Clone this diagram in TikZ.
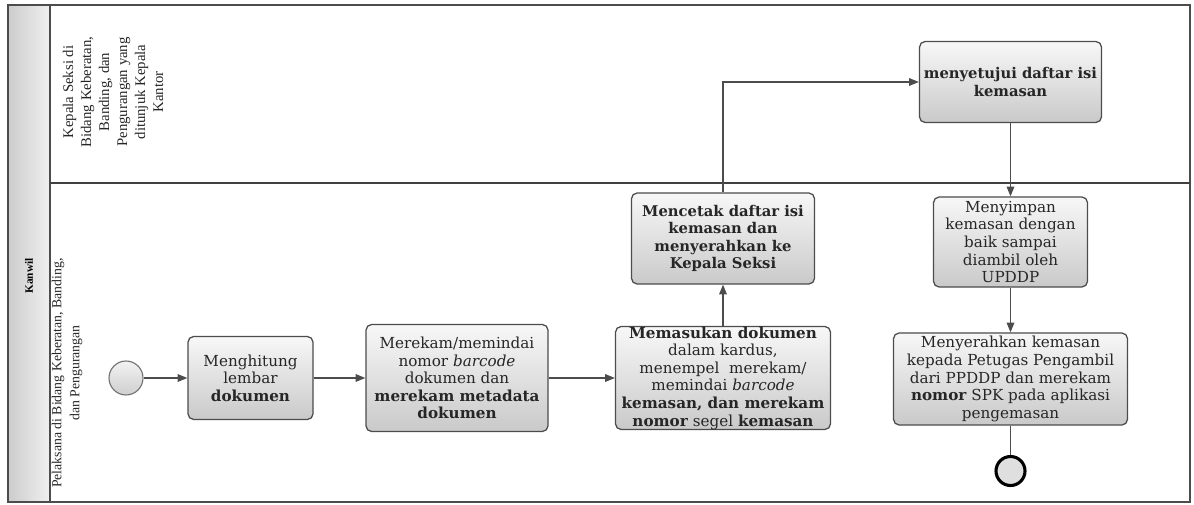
\documentclass[tikz,border=0pt]{standalone}
\usepackage{fontspec}
\setmainfont{DejaVu Serif}
\newfontfamily\lanefont{Liberation Serif}
\usetikzlibrary{arrows.meta,positioning}

\tikzset{
  task/.style={draw=black!70, line width=0.9pt, rounded corners=4pt,
    top color=gray!6, bottom color=gray!42, align=center, inner sep=2pt,
    text=black!85, font=\fontsize{10.8}{12.5}\selectfont},
  boldtask/.style={task, font=\bfseries\fontsize{10.5}{12.5}\selectfont},
  startev/.style={circle, draw=black!55, line width=0.8pt, inner sep=0pt,
    minimum size=34*0.025cm, top color=gray!10, bottom color=gray!38},
  endev/.style={circle, draw=black, line width=2.2pt, inner sep=0pt,
    minimum size=29*0.025cm, fill=gray!25},
  flow/.style={draw=black!70, line width=0.8pt, -{Triangle[length=7pt,width=5.5pt]}},
  lanetext/.style={rotate=90, align=center, text=black!85,
    font=\lanefont\fontsize{10.5}{12.8}\selectfont},
}

\begin{document}
\begin{tikzpicture}[x=0.025cm,y=-0.025cm]
\useasboundingbox (0,0) rectangle (1194,505);
% pool and lanes
\fill[left color=gray!40, right color=gray!12] (8,5) rectangle (50,502);
\draw[black!70, line width=1pt] (8,5) rectangle (1190,502);
\draw[black!70, line width=1pt] (50,5) -- (50,502);
\draw[black!75, line width=1pt] (50,183) -- (1190,183);
\node[rotate=90, font=\lanefont\bfseries\fontsize{8}{9}\selectfont] (kanwil) at (29,276) {Kanwil};
\node[lanetext] (laneup) at (113,92) {Kepala Seksi di\\ Bidang Keberatan,\\ Banding, dan\\ Pengurangan yang\\ ditunjuk Kepala\\ Kantor};
\node[lanetext, font=\lanefont\fontsize{9.8}{12.8}\selectfont] (lanelow) at (67,373) {Pelaksana di Bidang Keberatan, Banding,\\ dan Pengurangan};

% tasks
\node[startev] (start) at (126,378) {};
\node[task, minimum width=125*0.025cm, minimum height=83*0.025cm] (count) at (250.5,378)
  {Menghitung\\ lembar\\ \textbf{dokumen}};
\node[task, minimum width=182*0.025cm, minimum height=107*0.025cm] (scan) at (457,378)
  {Merekam/memindai\\ nomor \textit{barcode}\\ dokumen dan\\ \textbf{merekam metadata}\\ \textbf{dokumen}};
\node[task, minimum width=215*0.025cm, minimum height=103*0.025cm, inner ysep=0pt] (pack) at (723,378)
  {\textbf{Memasukan dokumen}\\ dalam kardus,\\ menempel\ \ merekam/\\ memindai \textit{barcode}\\ \textbf{kemasan, dan merekam}\\ \textbf{nomor} segel \textbf{kemasan}};
\node[boldtask, minimum width=183*0.025cm, minimum height=91*0.025cm] (print) at (723,238.5)
  {Mencetak daftar isi\\ kemasan dan\\ menyerahkan ke\\ Kepala Seksi};
\node[boldtask, minimum width=182*0.025cm, minimum height=81*0.025cm] (approve) at (1010.5,82)
  {menyetujui daftar isi\\ kemasan};
\node[task, minimum width=154*0.025cm, minimum height=90*0.025cm] (store) at (1010.5,242)
  {Menyimpan\\ kemasan dengan\\ baik sampai\\ diambil oleh\\ UPDDP};
\node[task, minimum width=234*0.025cm, minimum height=92*0.025cm, inner ysep=0pt] (handover) at (1010.5,379)
  {Menyerahkan kemasan\\ kepada Petugas Pengambil\\ dari PPDDP dan merekam\\ \textbf{nomor} SPK pada aplikasi\\ pengemasan};
\node[endev] (finish) at (1010.5,471) {};

% sequence flows
\draw[flow] (start) -- (count);
\draw[flow] (count) -- (scan);
\draw[flow] (scan) -- (pack);
\draw[flow] (pack) -- (print);
\draw[flow] (print.north) |- (approve.west);
\draw[flow] (approve) -- (store);
\draw[flow] (store) -- (handover);
\draw[draw=black!70, line width=0.8pt] (handover) -- (finish);
\end{tikzpicture}
\end{document}
